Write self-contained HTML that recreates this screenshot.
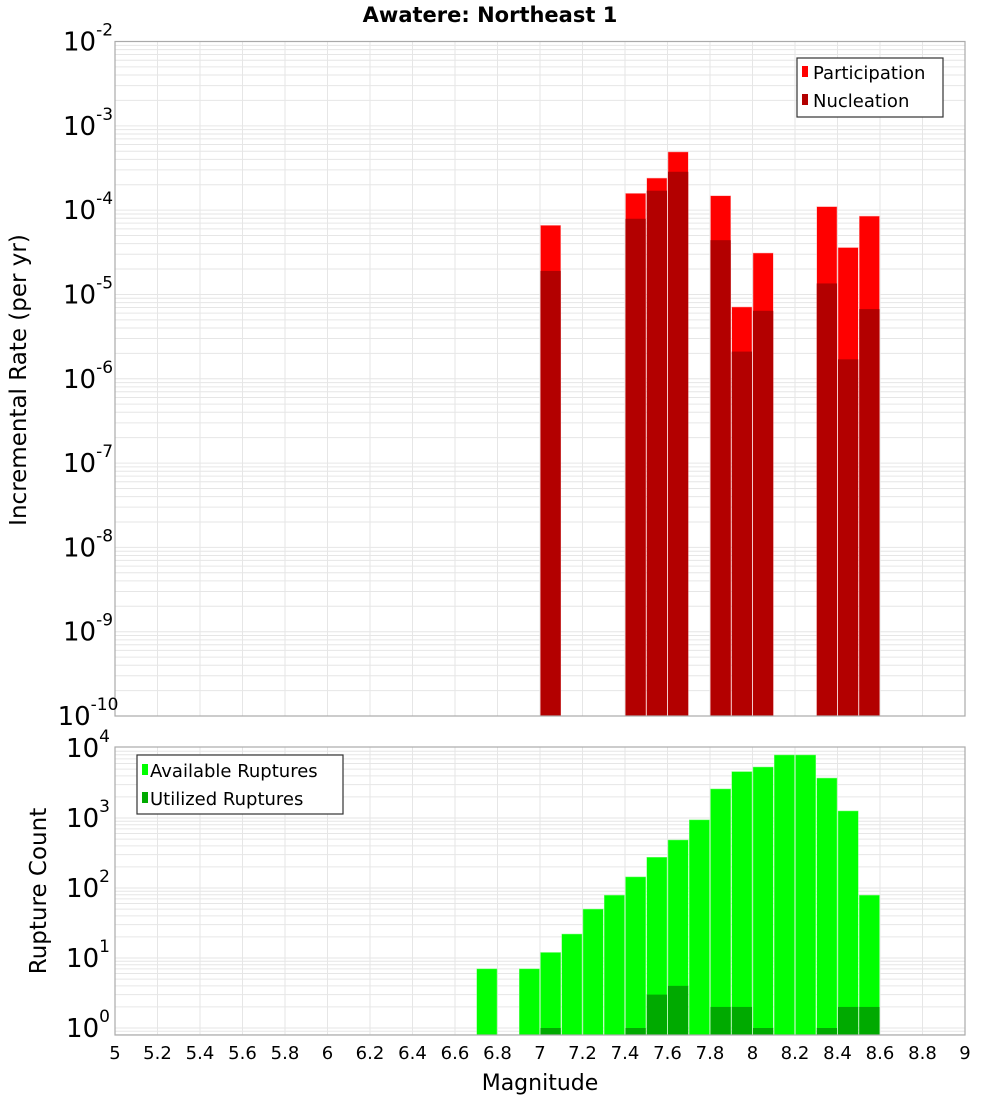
<!DOCTYPE html>
<html><head><meta charset="utf-8"><style>
body{margin:0;background:#fff;}
svg{display:block;font-family:"Liberation Sans","DejaVu Sans",sans-serif;}
</style></head><body>
<svg id="chart" width="1000" height="1100" viewBox="0 0 1000 1100">
<text x="490" y="22" font-size="21" font-weight="bold" text-anchor="middle" font-family="DejaVu Sans, sans-serif">Awatere: Northeast 1</text>
<g id="top"></g>
<g id="bot"></g>
<text transform="translate(26,380) rotate(-90)" font-size="23" text-anchor="middle" font-family="DejaVu Sans, sans-serif">Incremental Rate (per yr)</text>
<text transform="translate(46,891) rotate(-90)" font-size="23" text-anchor="middle" font-family="DejaVu Sans, sans-serif">Rupture Count</text>
<text x="540" y="1090" font-size="22" text-anchor="middle" font-family="DejaVu Sans, sans-serif">Magnitude</text>
<g>
<rect x="797" y="58" width="146" height="59" fill="#fff" stroke="#333" stroke-width="1.2"/>
<rect x="802" y="66" width="6" height="11" fill="#ff0000"/>
<text x="813" y="79" font-size="18" font-family="DejaVu Sans, sans-serif">Participation</text>
<rect x="802" y="94" width="6" height="11" fill="#b30000"/>
<text x="813" y="107" font-size="18" font-family="DejaVu Sans, sans-serif">Nucleation</text>
</g>
<g>
<rect x="137" y="755" width="206" height="59" fill="#fff" stroke="#333" stroke-width="1.2"/>
<rect x="142" y="764" width="6" height="11" fill="#00ff00"/>
<text x="150" y="777" font-size="18" font-family="DejaVu Sans, sans-serif">Available Ruptures</text>
<rect x="142" y="792" width="6" height="11" fill="#00aa00"/>
<text x="150" y="805" font-size="18" font-family="DejaVu Sans, sans-serif">Utilized Ruptures</text>
</g>
</svg>
<script>
const mags = [7.0,7.4,7.5,7.6,7.8,7.9,8.0,8.3,8.4,8.5];
const participation = [6.6e-5,1.58e-4,2.4e-4,4.9e-4,1.48e-4,7.1e-6,3.1e-5,1.1e-4,3.6e-5,8.5e-5];
const nucleation = [1.9e-5,7.9e-5,1.7e-4,2.85e-4,4.4e-5,2.1e-6,6.4e-6,1.35e-5,1.7e-6,6.7e-6];
const countMags = [6.7,6.9,7.0,7.1,7.2,7.3,7.4,7.5,7.6,7.7,7.8,7.9,8.0,8.1,8.2,8.3,8.4,8.5];
const available = [7,7,12,22,50,79,144,275,485,940,2600,4600,5350,7950,7950,3720,1260,79];
const utilized = [0,0,1,0,0,0,1,3,4,0,2,2,1,0,0,1,2,2];
const xTicks = [5,5.2,5.4,5.6,5.8,6,6.2,6.4,6.6,6.8,7,7.2,7.4,7.6,7.8,8,8.2,8.4,8.6,8.8,9];
const topExps = [-2,-3,-4,-5,-6,-7,-8,-9,-10];
const botExps = [4,3,2,1,0];

const NS="http://www.w3.org/2000/svg";
const svg=document.getElementById('chart');
function mk(tag,attrs,parent){const e=document.createElementNS(NS,tag);for(const k in attrs)e.setAttribute(k,attrs[k]);(parent||svg).appendChild(e);return e;}
const X0=115,X1=965;
const xs=m=>X0+(m-5)/4*(X1-X0);
// top axis
const T0=41.5,T1=716,tpd=(T1-T0)/8;
const yTop=v=>T0+(-2-Math.log10(v))*tpd;
// bottom axis
const B0=747,B1=1035,bpd=70,B10=1028;
const yBot=v=>B10-Math.log10(v)*bpd;

function grid(g,y0,y1,yfn,eMin,eMax){
  for(const t of xTicks){const l=mk('line',{x1:xs(t),x2:xs(t),y1:y0,y2:y1,stroke:'#e6e6e6','stroke-width':1},g);}
  for(let e=eMin;e<=eMax;e++)for(let k=1;k<10;k++){const y=yfn(k*Math.pow(10,e));if(y<y0||y>y1)continue;
    mk('line',{x1:X0,x2:X1,y1:y,y2:y,stroke:'#e6e6e6','stroke-width':1},g);}
}
const gt=document.getElementById('top'), gb=document.getElementById('bot');
mk('rect',{x:X0,y:T0,width:X1-X0,height:T1-T0,fill:'#fff'},gt);
grid(gt,T0,T1,yTop,-10,-3);
mk('rect',{x:X0,y:B0,width:X1-X0,height:B1-B0,fill:'#fff'},gb);
grid(gb,B0,B1,yBot,-1,3);

const bw=(X1-X0)/40;
mags.forEach((m,i)=>{
  const x=xs(m)+0.5;
  const p=mk('rect',{x:x,y:yTop(participation[i]),width:bw-1,height:T1-yTop(participation[i]),fill:'#ff0000',stroke:'#ffb0b0','stroke-width':0.5},gt);
  
  
  const n=mk('rect',{x:x,y:yTop(nucleation[i]),width:bw-1,height:T1-yTop(nucleation[i]),fill:'#b30000'},gt);
  
  
});
countMags.forEach((m,i)=>{
  const x=xs(m)+0.5;
  const a=mk('rect',{x:x,y:yBot(available[i]),width:bw-1,height:B1-yBot(available[i]),fill:'#00ff00',stroke:'#80ff80','stroke-width':0.5},gb);
  
  
  if(utilized[i]>0){
    const u=mk('rect',{x:x,y:yBot(utilized[i]),width:bw-1,height:B1-yBot(utilized[i]),fill:'#00aa00'},gb);
    
    
  }
});
mk('rect',{x:X0,y:T0,width:X1-X0,height:T1-T0,fill:'none',stroke:'#aaa','stroke-width':1.2},gt);
mk('rect',{x:X0,y:B0,width:X1-X0,height:B1-B0,fill:'none',stroke:'#aaa','stroke-width':1.2},gb);

function ylab(g,y,e,name){
  const t=mk('text',{x:108,y:y+9,'font-size':26,'text-anchor':'end','font-family':'DejaVu Sans, sans-serif'},g);
  
  
  t.textContent='10';
  const s=mk('tspan',{dy:-15,'font-size':17},t);s.textContent=String(e);
  // move so exponent ends near axis
  t.setAttribute('x',88);t.setAttribute('text-anchor','middle');
}
topExps.forEach(e=>ylab(gt,yTop(Math.pow(10,e)),e,'y-tick-label-rate'));
botExps.forEach(e=>ylab(gb,yBot(Math.pow(10,e)),e,'y-tick-label-count'));
xTicks.forEach(t=>{
  const l=mk('text',{x:xs(t),y:1059,'font-size':18,'text-anchor':'middle','font-family':'DejaVu Sans, sans-serif'});
  
  
  l.textContent=String(t);
});
</script>
</body></html>
